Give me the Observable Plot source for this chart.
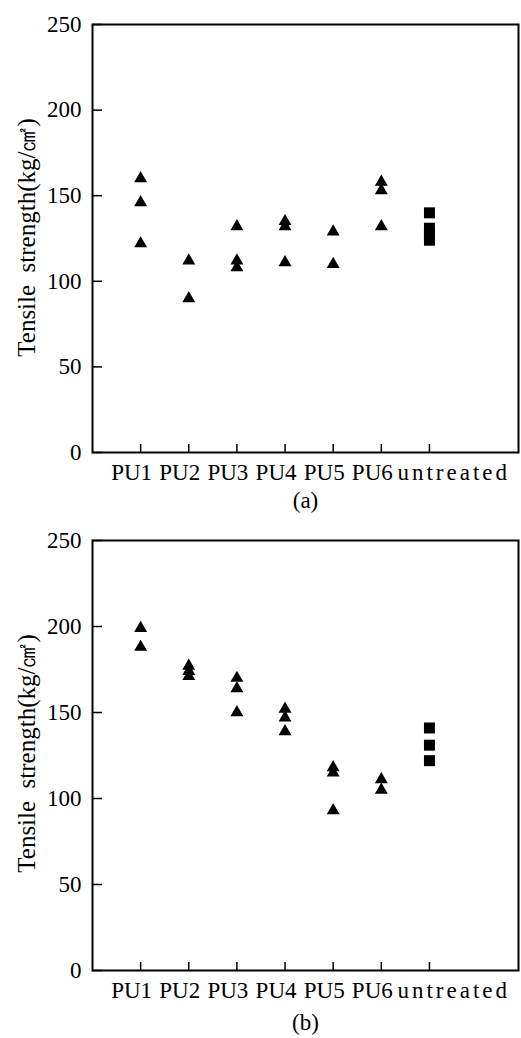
<!DOCTYPE html>
<html><head><meta charset="utf-8">
<script src="https://cdn.jsdelivr.net/npm/d3@7"></script>
<script src="https://cdn.jsdelivr.net/npm/@observablehq/plot@0.6"></script>
<style>
body{margin:0;background:#fff;}
#chart svg{display:block;}
</style>
</head><body><div id="chart"></div>
<script>
const categories = ["PU1","PU2","PU3","PU4","PU5","PU6","untreated"];
const yTicks = [0, 50, 100, 150, 200, 250];
const yLabel = "Tensile  strength(kg/㎠)";
// panel (a)
const treatedA = [[160,146,122],[112,90],[132,112,108],[135,132,111],[129,110],[158,153,132]];
const untreatedA = [140,131,127,124];
// panel (b)
const treatedB = [[199,188],[177,174,171],[170,164,150],[152,147,139],[118,115,93],[111,105]];
const untreatedB = [141,131,122];
const captions = ["(a)", "(b)"];

const font = "'Liberation Serif', 'DejaVu Serif', serif";
const FS = 23;

function panel(treated, untreated, caption, opt) {
  const tri = treated.flatMap((vals, i) => vals.map(v => ({cat: categories[i], v})));
  const sq = untreated.map(v => ({cat: "untreated", v}));
  const pos = d => categories.indexOf(d.cat) + 1;
  const allTicks = d3.range(1, categories.length + 1);
  const treatedTicks = d3.range(1, categories.length);
  const fmt = i => categories[i - 1];
  const svg = Plot.plot({
    width: 521,
    height: opt.height,
    marginLeft: 92,
    marginRight: 3,
    marginTop: opt.top,
    marginBottom: opt.bottom,
    style: {fontFamily: font, fontSize: FS + "px", color: "black", background: "white", overflow: "visible"},
    x: {type: "linear", domain: [0, 8.85]},
    y: {domain: [0, 250]},
    marks: [
      Plot.frame({stroke: "black", strokeWidth: 2}),
      Plot.axisY({ticks: yTicks, tickSize: -10, tickPadding: 21, strokeWidth: 1.5, fontSize: FS, label: null}),
      Plot.axisX({ticks: allTicks, tickFormat: () => "", tickSize: -8, tickPadding: 0, strokeWidth: 1.5, label: null}),
      Plot.axisX({ticks: treatedTicks, tickFormat: fmt, tickSize: 0, tickPadding: 11, dx: -9, fontSize: FS, label: null}),
      Plot.axisX({ticks: [categories.length], tickFormat: fmt, tickSize: 0, tickPadding: 11, textAnchor: "start", dx: -32, fontSize: FS, label: null}),
      Plot.dot(tri, {x: pos, y: "v", symbol: "triangle", r: 4.8, fill: "black", stroke: "none"}),
      Plot.dot(sq, {x: pos, y: "v", symbol: "square", r: 6.2, fill: "black", stroke: "none"}),
      Plot.text([yLabel], {text: d => d, frameAnchor: "left", textAnchor: "middle", rotate: -90, dx: -66, dy: opt.labelDy, fontSize: 25}),
      Plot.text([caption], {text: d => d, frameAnchor: "bottom", dy: opt.capDy, fontSize: FS})
    ]
  });
  const s = d3.select(svg);
  s.selectAll("text").filter(function() { return this.textContent === "untreated"; }).attr("letter-spacing", "3px");
  return svg;
}

const el = document.getElementById("chart");
el.append(panel(treatedA, untreatedA, captions[0], {height: 520, top: 24, bottom: 68, labelDy: -1, capDy: 55}));
el.append(panel(treatedB, untreatedB, captions[1], {height: 518, top: 20, bottom: 68, labelDy: -2, capDy: 59}));
</script>
</body></html>
